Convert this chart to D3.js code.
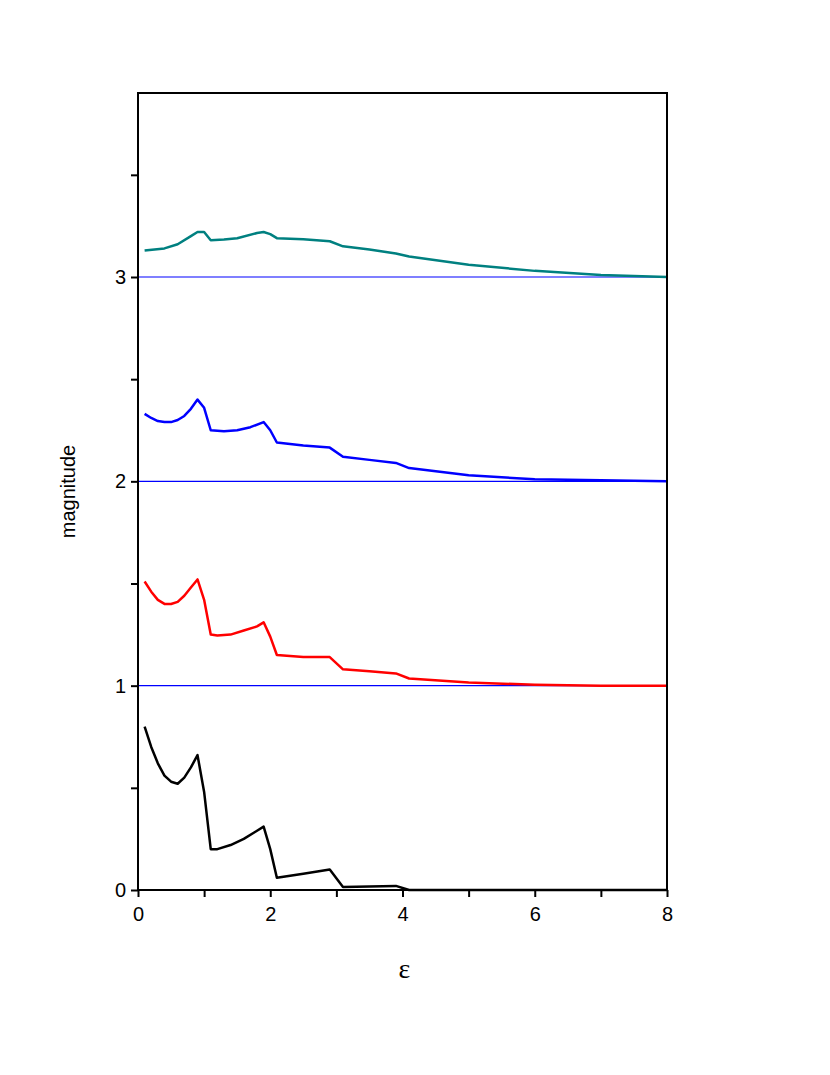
<!DOCTYPE html>
<html>
<head>
<meta charset="utf-8">
<script src="https://cdn.jsdelivr.net/npm/d3@7"></script>
<style>
  body { margin: 0; background: #fff; }
  text { font-family: "Liberation Sans", Arial, sans-serif; }
</style>
</head>
<body>
<script>
var xTicks = [0, 2, 4, 6, 8];
var yTicks = [0, 1, 2, 3];
var baselines = [1, 2, 3];

var blackX = [0.1,0.2,0.3,0.4,0.5,0.6,0.7,0.8,0.9,1.0,1.1,1.2,1.4,1.6,1.8,1.9,2.0,2.1,2.5,2.9,3.1,3.5,3.9,4.1,8];
var blackY = [0.80,0.70,0.62,0.56,0.53,0.52,0.55,0.60,0.66,0.48,0.20,0.20,0.22,0.25,0.29,0.31,0.20,0.06,0.08,0.10,0.015,0.017,0.02,0,0];

var redX = [0.1,0.2,0.3,0.4,0.5,0.6,0.7,0.8,0.9,1.0,1.1,1.2,1.4,1.6,1.8,1.9,2.0,2.1,2.5,2.9,3.1,3.5,3.9,4.1,5,6,7,8];
var redY = [1.51,1.46,1.42,1.40,1.40,1.41,1.44,1.48,1.52,1.42,1.25,1.245,1.25,1.27,1.29,1.31,1.24,1.15,1.14,1.14,1.08,1.07,1.06,1.035,1.015,1.005,1.0,1.0];

var blueX = [0.1,0.2,0.3,0.4,0.5,0.6,0.7,0.8,0.9,1.0,1.1,1.3,1.5,1.7,1.9,2.0,2.1,2.5,2.9,3.1,3.5,3.9,4.1,5,6,7,8];
var blueY = [2.33,2.31,2.295,2.29,2.29,2.30,2.32,2.355,2.40,2.36,2.25,2.245,2.25,2.265,2.29,2.25,2.19,2.175,2.165,2.12,2.105,2.09,2.065,2.03,2.01,2.005,2.0];

var tealX = [0.1,0.4,0.6,0.8,0.9,1.0,1.1,1.3,1.5,1.8,1.9,2.0,2.1,2.5,2.9,3.1,3.5,3.9,4.1,5,6,7,8];
var tealY = [3.13,3.14,3.16,3.20,3.22,3.22,3.18,3.183,3.19,3.215,3.22,3.21,3.19,3.185,3.175,3.15,3.135,3.115,3.10,3.06,3.03,3.01,3.0];

var series = [
  { xs: blackX, ys: blackY, color: "#000000" },
  { xs: redX, ys: redY, color: "#ff0000" },
  { xs: blueX, ys: blueY, color: "#0000ff" },
  { xs: tealX, ys: tealY, color: "#008080" }
];

(function () {
  var W = 830, H = 1075;
  var pl = 138, pr = 667, pt = 93, pb = 890;

  var x = d3.scaleLinear().domain([0, 8]).range([pl, pr]);
  var y = d3.scaleLinear().domain([0, 3]).range([pb, 277]);

  var svg = d3.select("body").append("svg").attr("width", W).attr("height", H);

  svg.selectAll("line.base").data(baselines).enter().append("line")
    .attr("x1", pl).attr("x2", pr)
    .attr("y1", function (d) { return y(d); }).attr("y2", function (d) { return y(d); })
    .attr("stroke", "#0000ff").attr("stroke-width", 1.2);

  var line = d3.line()
    .x(function (d) { return x(d[0]); })
    .y(function (d) { return y(d[1]); });

  series.forEach(function (s) {
    svg.append("path")
      .datum(d3.zip(s.xs, s.ys))
      .attr("d", line)
      .attr("fill", "none")
      .attr("stroke", s.color)
      .attr("stroke-width", 2.5)
      .attr("stroke-linejoin", "round");
  });

  svg.append("rect")
    .attr("x", pl).attr("y", pt)
    .attr("width", pr - pl).attr("height", pb - pt)
    .attr("fill", "none").attr("stroke", "#000").attr("stroke-width", 2);

  var xAxis = svg.append("g").attr("transform", "translate(0," + pb + ")")
    .call(d3.axisBottom(x).tickValues(d3.range(0, 9, 1)).tickSize(7)
      .tickFormat(function (d) { return xTicks.indexOf(d) >= 0 ? d : ""; }));
  var yAxis = svg.append("g").attr("transform", "translate(" + pl + ",0)")
    .call(d3.axisLeft(y).tickValues(d3.range(0, 4, 0.5)).tickSize(7)
      .tickFormat(function (d) { return yTicks.indexOf(d) >= 0 ? d : ""; }));

  [xAxis, yAxis].forEach(function (g) {
    g.select(".domain").remove();
    g.selectAll(".tick line").attr("stroke", "#000").attr("stroke-width", 2);
    g.selectAll(".tick text").attr("font-size", 20).attr("fill", "#000")
      .attr("font-family", "Liberation Sans, Arial, sans-serif");
  });
  xAxis.selectAll(".tick text").attr("dy", "1.05em");
  yAxis.selectAll(".tick text").attr("x", -12);

  svg.append("text")
    .attr("x", (pl + pr) / 2 + 2).attr("y", 978)
    .attr("text-anchor", "middle").attr("font-size", 28)
    .style("font-family", "Liberation Serif, serif")
    .text("ε");

  svg.append("text")
    .attr("transform", "translate(75," + ((pt + pb) / 2) + ") rotate(-90)")
    .attr("text-anchor", "middle").attr("font-size", 20)
    .text("magnitude");
})();
</script>
</body>
</html>
